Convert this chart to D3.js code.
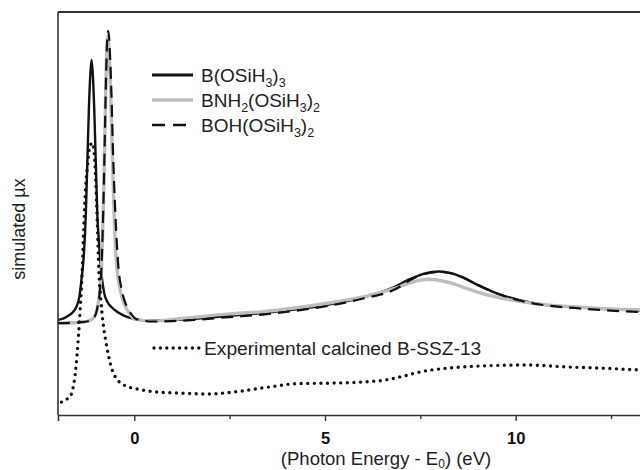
<!DOCTYPE html>
<html>
<head>
<meta charset="utf-8">
<script src="https://cdn.jsdelivr.net/npm/d3@7"></script>
<style>
  html, body { margin: 0; padding: 0; background: #fff; }
  svg { display: block; font-family: "Liberation Sans", Arial, Helvetica, sans-serif; }
</style>
</head>
<body>
<svg id="chart" width="640" height="470"></svg>
<script>
// ---- Data (x: photon energy - E0 in eV, y: simulated µx, arbitrary units) ----
const xB = [-2.0,-1.85,-1.7,-1.6,-1.52,-1.44,-1.38,-1.32,-1.27,-1.23,-1.19,-1.15,-1.12,-1.09,-1.05,-1.01,-0.97,-0.92,-0.86,-0.79,-0.7,-0.6,-0.45,-0.3,-0.15,0,0.5,1,1.6,2.5,3.35,4.25,5.1,6,6.7,7.3,7.6,8,8.3,8.6,9,9.5,10.1,10.8,11.6,12.5,13.5,15];
const yB = [23.6,24.0,24.8,25.6,26.8,29.3,34,40,50,63,76,85,88.1,85,76,63,50,42,35,30.3,28,26.8,25.6,24.8,24.2,23.8,23.4,23.5,23.9,24.6,25.3,26.2,27.4,29.2,31.3,34,35.1,35.6,35.2,34.2,32.3,30.2,28.5,27.3,26.7,26.2,25.8,25.5];

const xBNH2 = [-2.0,-1.6,-1.3,-1.1,-1.0,-0.95,-0.9,-0.86,-0.83,-0.8,-0.77,-0.74,-0.71,-0.69,-0.66,-0.62,-0.58,-0.54,-0.5,-0.45,-0.39,-0.3,-0.2,-0.1,0,0.5,0.9,1.6,2.5,3.35,4.25,5.1,6,6.85,7.3,7.7,8.2,8.6,9,9.9,10.8,11.6,12.5,13.2,15];
const yBNH2 = [22.8,22.9,23.1,23.8,25.3,27.5,31,36.7,45,56,70,84,92.5,94,90,80,66,53,43,36,32,28.5,26.3,24.8,23.8,23.3,23.6,24.3,25.1,25.6,26.6,27.8,29.3,31.5,33.0,33.7,33.0,31.8,30.5,28.5,27.3,26.8,26.3,26.1,25.8];

const xBOH = [-2.0,-1.6,-1.3,-1.1,-1.0,-0.95,-0.9,-0.86,-0.83,-0.8,-0.77,-0.74,-0.71,-0.68,-0.64,-0.6,-0.56,-0.51,-0.46,-0.41,-0.35,-0.26,-0.16,-0.06,0.05,0.5,1,1.6,2.5,3.35,4.25,5.1,6,6.8,7.3,7.6,8,8.3,8.6,9,9.5,10.1,10.8,11.6,12.5,13.2,15];
const yBOH = [22.8,22.9,23.1,23.8,25.3,27.5,31,36.7,45,56,70,84,93,95.3,90,80,66,53,43,36,32,28.5,26.3,24.8,23.8,23.2,23.3,23.6,24.3,24.9,25.9,27.1,28.9,31.0,33.8,35.0,35.5,35.2,34.2,32.3,30.2,28.4,27.2,26.5,25.9,25.6,25.3];

const xExp = [-1.91,-1.8,-1.68,-1.6,-1.55,-1.5,-1.46,-1.42,-1.39,-1.36,-1.33,-1.3,-1.26,-1.22,-1.17,-1.1,-1.05,-1.01,-0.97,-0.93,-0.88,-0.82,-0.75,-0.67,-0.58,-0.45,-0.3,-0.1,0.1,0.6,1.3,1.9,2.6,3.5,4.3,5.1,6,6.6,7.0,7.5,8.3,9.2,10.3,11.4,12.3,13.2,15];
const yExp = [3.2,3.8,4.6,7,10,15,20,26,31,37,45,52,58.5,62.5,66.5,67.5,65,58,48,36,29,23,18.5,14.5,11.2,8.8,7.6,6.8,6.4,5.7,5.4,5.2,5.7,6.9,7.8,7.9,8.2,8.7,9.5,10.7,11.7,12.2,12.4,11.9,11.6,11.2,10.8];

const majorTicks = [0, 5, 10];
const minorTicks = [2.5, 7.5, 12.5];

// ---- Layout ----
const svg = d3.select("#chart");
const mLeft = 58, mTop = 12, mBottom = 415, mRightFull = 714;
const x = d3.scaleLinear().domain([-2, 15.2]).range([mLeft, mRightFull]);
const y = d3.scaleLinear().domain([0, 100]).range([mBottom, mTop]);

svg.append("defs").append("clipPath").attr("id", "plotclip")
  .append("rect").attr("x", mLeft).attr("y", mTop).attr("width", mRightFull - mLeft).attr("height", mBottom - mTop);

const zip = (xs, ys) => xs.map((v, i) => [v, ys[i]]);
const line = d3.line().x(d => x(d[0])).y(d => y(d[1])).curve(d3.curveMonotoneX);

const g = svg.append("g").attr("clip-path", "url(#plotclip)");

g.append("path").datum(zip(xB, yB)).attr("d", line)
  .attr("fill", "none").attr("stroke", "#111").attr("stroke-width", 2.4).attr("stroke-linejoin", "round");
g.append("path").datum(zip(xBNH2, yBNH2)).attr("d", line)
  .attr("fill", "none").attr("stroke", "#bdbdbd").attr("stroke-width", 3.4).attr("stroke-linejoin", "round");
g.append("path").datum(zip(xBOH, yBOH)).attr("d", line)
  .attr("fill", "none").attr("stroke", "#111").attr("stroke-width", 2.2).attr("stroke-dasharray", "12 7");
g.append("path").datum(zip(xExp, yExp)).attr("d", line)
  .attr("fill", "none").attr("stroke", "#111").attr("stroke-width", 3.4)
  .attr("stroke-linecap", "round").attr("stroke-dasharray", "0 6.6");

// ---- Frame / axes ----
const frameColor = "#333";
svg.append("line").attr("x1", mLeft).attr("x2", mLeft).attr("y1", mTop).attr("y2", mBottom)
  .attr("stroke", frameColor).attr("stroke-width", 1.6);
svg.append("line").attr("x1", mLeft).attr("x2", 640).attr("y1", mTop).attr("y2", mTop)
  .attr("stroke", frameColor).attr("stroke-width", 2);

const axisMajor = d3.axisBottom(x).tickValues(majorTicks).tickSize(6).tickPadding(11).tickFormat(d3.format("d"));
const axG = svg.append("g").attr("transform", `translate(0,${mBottom})`).call(axisMajor);
axG.select(".domain").attr("stroke", frameColor).attr("stroke-width", 1.6);
axG.selectAll(".tick line").attr("stroke", frameColor).attr("stroke-width", 1.4);
axG.selectAll(".tick text").attr("font-size", 16.5).attr("font-weight", "bold").attr("fill", "#111")
  .attr("font-family", "'Liberation Sans', Arial, sans-serif");

const axisMinor = d3.axisBottom(x).tickValues(minorTicks).tickSize(4).tickFormat("");
const axM = svg.append("g").attr("transform", `translate(0,${mBottom})`).call(axisMinor);
axM.select(".domain").remove();
axM.selectAll(".tick line").attr("stroke", frameColor).attr("stroke-width", 1.4);

// ---- Axis titles ----
const xt = svg.append("text").attr("x", x(((-2) + 15.2) / 2)).attr("y", 465)
  .attr("text-anchor", "middle").attr("font-size", 18.5).attr("fill", "#222");
xt.append("tspan").text("(Photon Energy - E");
xt.append("tspan").attr("font-size", 12).attr("dy", 3).text("0");
xt.append("tspan").attr("dy", -3).text(") (eV)");

svg.append("text").attr("transform", "translate(25,229) rotate(-90)")
  .attr("text-anchor", "middle").attr("font-size", 18).attr("fill", "#222").text("simulated µx");

// ---- Legend ----
const legend = [
  { parts: [["B(OSiH", 0], ["3", 1], [")", 0], ["3", 1]], stroke: "#111", w: 2.8, dash: null, y: 75 },
  { parts: [["BNH", 0], ["2", 1], ["(OSiH", 0], ["3", 1], [")", 0], ["2", 1]], stroke: "#bdbdbd", w: 3.4, dash: null, y: 100 },
  { parts: [["BOH(OSiH", 0], ["3", 1], [")", 0], ["2", 1]], stroke: "#111", w: 2.6, dash: "13 8", y: 125 }
];
legend.forEach(L => {
  svg.append("line").attr("x1", 152).attr("x2", 193).attr("y1", L.y).attr("y2", L.y)
    .attr("stroke", L.stroke).attr("stroke-width", L.w).attr("stroke-dasharray", L.dash);
  const t = svg.append("text").attr("x", 201).attr("y", L.y + 7).attr("font-size", 19).attr("fill", "#222");
  let prevSub = 0;
  L.parts.forEach(([s, sub]) => {
    const ts = t.append("tspan").text(s);
    if (sub !== prevSub) ts.attr("dy", sub ? 5 : -5);
    if (sub) ts.attr("font-size", 12.5);
    prevSub = sub;
  });
});
svg.append("line").attr("x1", 154).attr("x2", 199).attr("y1", 348).attr("y2", 348)
  .attr("stroke", "#111").attr("stroke-width", 3.4).attr("stroke-linecap", "round").attr("stroke-dasharray", "0 6.4");
svg.append("text").attr("x", 204).attr("y", 355).attr("font-size", 19.2).attr("fill", "#222")
  .text("Experimental calcined B-SSZ-13");
</script>
</body>
</html>
